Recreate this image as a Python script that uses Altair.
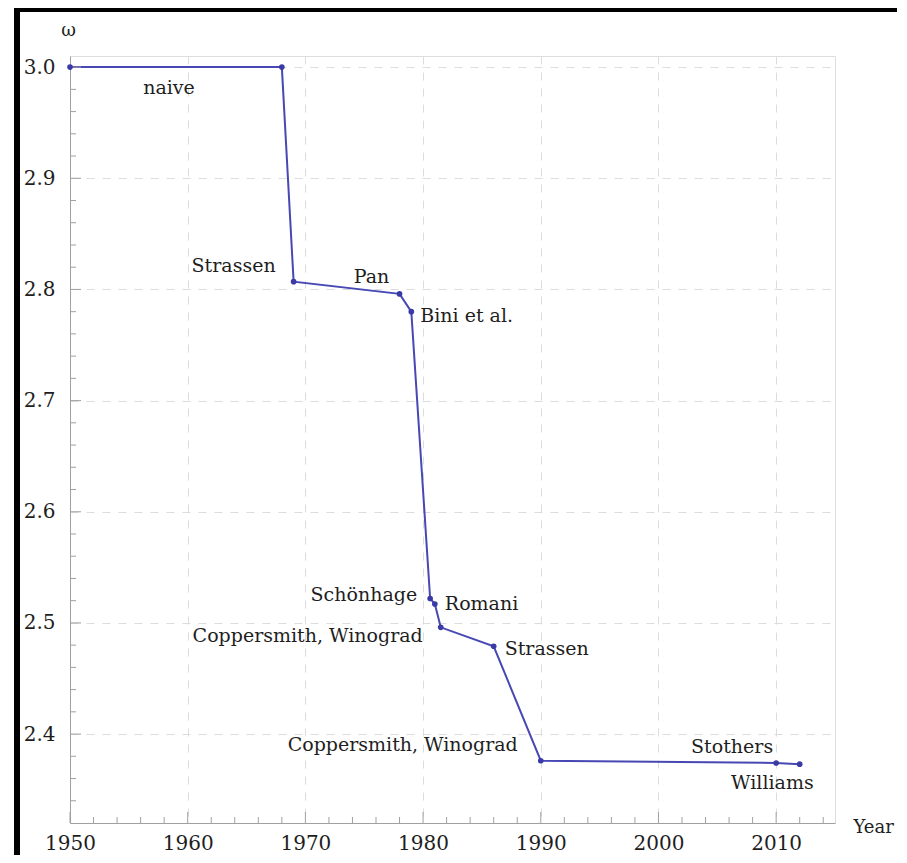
import altair as alt
import pandas as pd

# ---- data ----
years = [1950, 1968, 1969, 1978, 1979, 1980.6, 1981.0, 1981.5, 1986, 1990, 2010, 2012]
omega = [3.0, 3.0, 2.807, 2.796, 2.780, 2.522, 2.517, 2.496, 2.479, 2.376, 2.374, 2.3729]
names = ["naive", "", "Strassen", "Pan", "Bini et al.", "Schönhage", "Romani",
         "Coppersmith, Winograd", "Strassen", "Coppersmith, Winograd", "Stothers", "Williams"]

x_major = [1950, 1960, 1970, 1980, 1990, 2000, 2010]
x_minor = [y for y in range(1952, 2015, 2) if y % 10 != 0]
y_major = [2.4, 2.5, 2.6, 2.7, 2.8, 2.9, 3.0]
y_minor = [2.34, 2.36, 2.38, 2.42, 2.44, 2.46, 2.48, 2.52, 2.54, 2.56, 2.58,
           2.62, 2.64, 2.66, 2.68, 2.72, 2.74, 2.76, 2.78, 2.82, 2.84, 2.86, 2.88,
           2.92, 2.94, 2.96, 2.98]

W, H = 765, 767
FONT = "DejaVu Serif"
TXT = "#1e1e1e"
LINE = "#4848b4"
AX = "#a0a0a0"

df = pd.DataFrame({"year": years, "omega": omega, "name": names})

xs = alt.Scale(domain=[1950, 2015], nice=False, zero=False)
ys = alt.Scale(domain=[2.32, 3.01], nice=False, zero=False)

x_axis = alt.Axis(values=x_major, format="d", grid=True, gridDash=[8, 8], gridColor="#dcdcdc",
                  ticks=False, domainColor=AX, labelFont=FONT, labelFontSize=20, labelColor=TXT,
                  labelBaseline="alphabetic", labelPadding=26, labelOverlap=False, labelFlush=False,
                  title="Year", titleFont=FONT, titleFontSize=18, titleFontWeight="normal",
                  titleColor=TXT, titleX=783, titleY=4, titleAlign="left", titleBaseline="middle")
y_axis = alt.Axis(values=y_major, format=".1f", grid=True, gridDash=[8, 8], gridColor="#dcdcdc",
                  ticks=False, domainColor=AX, labelFont=FONT, labelFontSize=20, labelColor=TXT,
                  labelPadding=15, labelOverlap=False, labelFlush=False, labelBaseline="middle",
                  title="ω", titleFont=FONT, titleFontSize=18, titleFontWeight="normal",
                  titleColor=TXT, titleAngle=0, titleX=-2, titleY=-26, titleAlign="center",
                  titleBaseline="middle")

X = lambda f: alt.X(f, scale=xs, axis=x_axis)
Y = lambda f: alt.Y(f, scale=ys, axis=y_axis)

line = alt.Chart(df).mark_line(color=LINE, strokeWidth=2).encode(
    x=X("year:Q"), y=Y("omega:Q"), order="year:Q")
pts = alt.Chart(df).mark_circle(color="#3a3aa6", size=32, opacity=1).encode(
    x=X("year:Q"), y=Y("omega:Q"))

# inward ticks (Mathematica style)
def xticks(vals, length):
    d = pd.DataFrame({"year": vals})
    return alt.Chart(d).mark_rule(color=AX, strokeWidth=1).encode(
        x=X("year:Q"), y=alt.value(H), y2=alt.value(H - length))

def yticks(vals, length):
    d = pd.DataFrame({"omega": vals})
    return alt.Chart(d).mark_rule(color=AX, strokeWidth=1).encode(
        y=Y("omega:Q"), x=alt.value(0), x2=alt.value(length))

# label placement: (point index, align, dx, dy)
placement = [
    (0, "center", 99, 21),
    (2, "right", -18, -16),
    (3, "center", -28, -17),
    (4, "left", 9, 4),
    (5, "right", -13, -3),
    (6, "left", 10, 0),
    (7, "right", -18, 9),
    (8, "left", 11, 3),
    (9, "right", -23, -16),
    (10, "right", -3, -16),
    (11, "right", 14, 19),
]
labels = []
for idx, al, dx, dy in placement:
    d = df.iloc[[idx]]
    labels.append(alt.Chart(d).mark_text(align=al, baseline="middle", dx=dx, dy=dy, font=FONT,
                                          fontSize=19, color=TXT).encode(
        x=X("year:Q"), y=Y("omega:Q"), text="name:N"))

# screenshot frame (decoration)
frame_left = alt.Chart(pd.DataFrame({"a": [0]})).mark_rule(color="black", strokeWidth=6).encode(
    x=alt.value(-53), y=alt.value(-48), y2=alt.value(H + 32))
frame_top = alt.Chart(pd.DataFrame({"a": [0]})).mark_rule(color="black", strokeWidth=4).encode(
    x=alt.value(-56), x2=alt.value(W + 62), y=alt.value(-46))

chart = alt.layer(
    line, xticks(x_minor, 6), xticks(x_major, 11), yticks(y_minor, 6), yticks(y_major, 11),
    pts, *labels, frame_left, frame_top,
).properties(
    width=W, height=H,
    autosize=alt.AutoSizeParams(type="none"),
    padding={"left": 62, "top": 48, "right": 62, "bottom": 32},
).configure_view(strokeWidth=0, stroke="transparent").configure_axis(
    labelFont=FONT, titleFont=FONT
).configure(background="white")

chart.save("out.html", embed_options={"renderer": "svg", "actions": False})
